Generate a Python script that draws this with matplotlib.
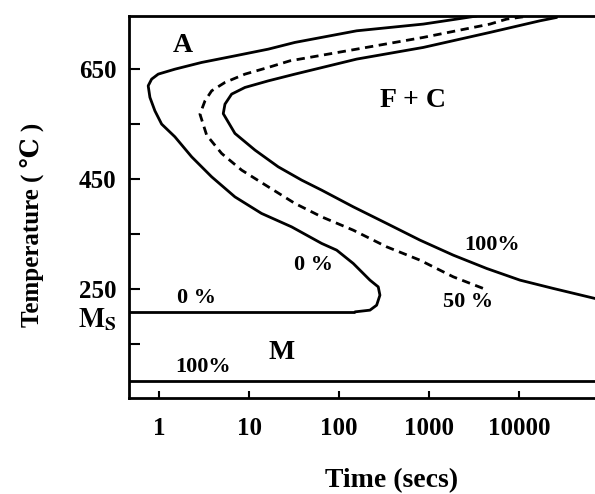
import matplotlib
matplotlib.use("Agg")
import matplotlib.pyplot as plt

plt.rcParams["font.family"] = ["Liberation Serif", "DejaVu Serif"]
plt.rcParams["font.weight"] = "bold"
plt.rcParams["mathtext.fontset"] = "stix"

# 0 % transformation curve (start), from the top, round the nose, down to Ms
START_TIME = [3384, 2028, 862, 156.6, 32.2, 16.3, 6.93, 2.95, 1.49, 0.972, 0.821,
              0.752, 0.786, 0.893, 1.061, 1.49, 2.29, 3.82, 6.93, 13.7, 29.6,
              63.9, 93.8, 143.5, 220, 272, 284, 261, 220, 150]
START_TEMP = [746, 740.4, 731.3, 719.1, 698.0, 685.8, 673.6, 661.6, 649.4, 640.4, 631.3,
              619.2, 598.1, 573.7, 549.6, 526.5, 490.1, 453.8, 417.4, 387.3, 362.9,
              332.8, 320.6, 296.4, 266.1, 253.9, 238.8, 220.6, 211.6, 208.5]

# 50 % curve (dashed)
HALF_TIME = [11080, 7300, 4757, 862, 156.6, 28.4, 16.3, 8.96, 5.37, 3.82, 3.22,
             2.83, 3.36, 4.93, 8.23, 16.3, 32.2, 63.9, 143.5, 338, 792, 1859, 4008]
HALF_TEMP = [744.5, 740.4, 731.3, 707.1, 685.8, 664.6, 652.6, 640.4, 625.3, 610.1, 591.9,
             567.7, 529.6, 496.3, 466, 435.6, 405.5, 381.1, 356.9, 326.6, 302.4, 272.1, 251]

# 100 % curve (finish)
END_TIME = [26270, 17120, 4757, 862, 156.6, 32.2, 16.3, 8.96, 6.37, 5.37, 5.14,
            6.93, 11.6, 21.0, 38.3, 63.9, 143.5, 338, 792, 1859, 4373, 10260, 24080, 70050]
END_TEMP = [743.4, 737.3, 716.2, 688.9, 667.7, 640.4, 628.2, 616.2, 604.1, 585.9, 568.6,
            532.7, 502.3, 472, 447.8, 429.6, 399.3, 369.1, 338.8, 311.5, 287.3, 266.1, 251, 232.8]

MS_TEMP = 208.5
MS_END_TIME = 150
M100_TEMP = 82.5

T_MIN, T_MAX = 0.46, 70000
Y_MIN, Y_MAX = 52, 746

XTICKS = [1, 10, 100, 1000, 10000]
XTICK_LABELS = ["1", "10", "100", "1000", "10000"]
YTICKS = [150, 250, 350, 450, 550, 650]
YTICK_LABELS = ["", "250", "", "450", "", "650"]

W, H = 595, 494
fig = plt.figure(figsize=(W / 100, H / 100), dpi=100)
ax = fig.add_axes([129 / W, 1 - 398 / H, 1 - 129 / W, (398 - 16) / H])

style = dict(color="black", lw=2, solid_joinstyle="round", solid_capstyle="round")
ax.plot(START_TIME, START_TEMP, **style)
ax.hlines(MS_TEMP, T_MIN, MS_END_TIME, color="black", lw=2)
ax.plot(HALF_TIME, HALF_TEMP, color="black", lw=2, dashes=(3, 2))
ax.plot(END_TIME, END_TEMP, **style)
ax.axhline(M100_TEMP, color="black", lw=2)

ax.set_xscale("log")
ax.set_xlim(T_MIN, T_MAX)
ax.set_ylim(Y_MIN, Y_MAX)
ax.set_xticks(XTICKS)
ax.set_xticklabels(XTICK_LABELS)
ax.minorticks_off()
ax.set_yticks(YTICKS)
ax.set_yticklabels(YTICK_LABELS)

ax.tick_params(axis="both", direction="in", width=1.5, labelsize=18)
ax.tick_params(axis="y", length=8, pad=9)
ax.tick_params(axis="x", length=5, pad=14)
for s in ["left", "bottom", "top"]:
    ax.spines[s].set_linewidth(2)
ax.spines["right"].set_visible(False)

# region and curve labels
ax.text(1.83, 693, "A", fontsize=20, ha="center", va="center")
ax.text(662, 593, "F + C", fontsize=20, ha="center", va="center")
ax.text(23.1, 135, "M", fontsize=20, ha="center", va="center")
ax.text(2.62, 233, "0 %", fontsize=16, ha="center", va="center")
ax.text(51.2, 293, "0 %", fontsize=16, ha="center", va="center")
ax.text(5010, 330, "100%", fontsize=16, ha="center", va="center")
ax.text(2700, 226, "50 %", fontsize=16, ha="center", va="center")
ax.text(3.05, 108, "100%", fontsize=16, ha="center", va="center")

ax.text(-0.026, 180, r"$\mathbf{M}_{\mathbf{S}}$", fontsize=20, ha="right",
        va="baseline", transform=ax.get_yaxis_transform())

fig.text(33 / W, 1 - 225 / H, "Temperature ( ℃ )", rotation=90, fontsize=18,
         ha="center", va="center")
fig.text(392 / W, 1 - 481 / H, "Time (secs)", fontsize=20, ha="center", va="center")

fig.savefig("out.png", dpi=100)
